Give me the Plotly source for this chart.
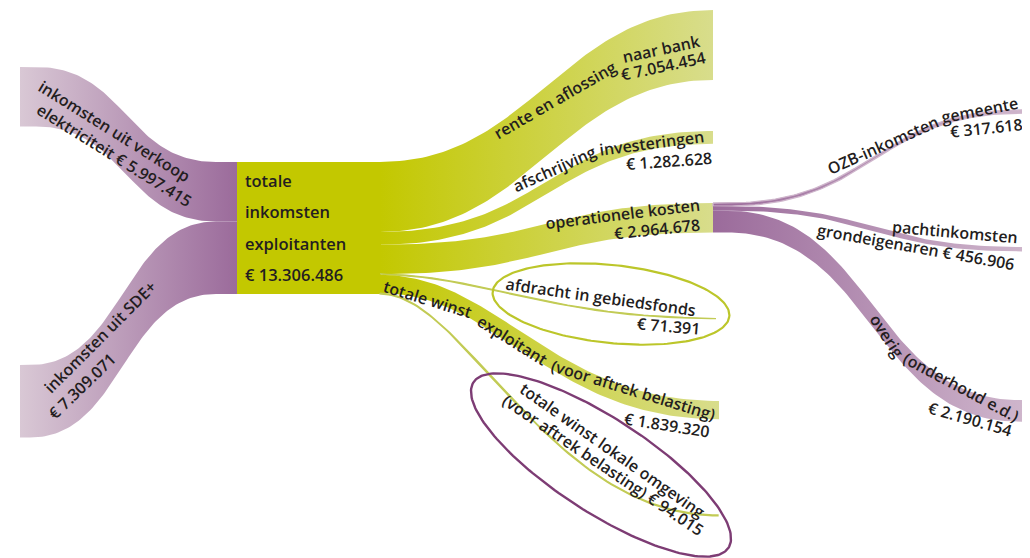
import numpy as np
import plotly.graph_objects as go

# ------------------------------------------------------------------ data
income_labels = ["inkomsten uit verkoop elektriciteit", "inkomsten uit SDE+"]
income_values = [5997415, 7309071]

total_label = ["totale", "inkomsten", "exploitanten"]
total_value = 13306486

spend_labels = [
    "rente en aflossing naar bank",
    "afschrijving investeringen",
    "operationele kosten",
    "afdracht in gebiedsfonds",
    "totale winst exploitant (voor aftrek belasting)",
    "totale winst lokale omgeving (voor aftrek belasting)",
]
spend_values = [7054454, 1282628, 2964678, 71391, 1839320, 94015]

opex_labels = ["OZB-inkomsten gemeente", "pachtinkomsten grondeigenaren", "overig (onderhoud e.d.)"]
opex_values = [317618, 456906, 2190154]


def euro(v):
    return "€ " + f"{v:,}".replace(",", ".")


# ------------------------------------------------------------------ layout / style
W, H = 1030, 558
PAGE_OFF = 8                        # default body margin of the html page
BLOCK_PX = 132                      # pixel height of the total block
K = BLOCK_PX / total_value          # px per euro
BLOCK_X0, BLOCK_X1, BLOCK_TOP = 237, 380, 162

income_pos = [dict(x0=20, top=67, f0=16, f1=22), dict(x0=20, top=365, f0=10, f1=22)]
spend_pos = [
    dict(x1=713, top=10, c0=0.45, c1=0.45),
    dict(x1=713, top=131, c0=0.5, c1=0.5),
    dict(x1=713, top=203, c0=0.5, c1=0.5),
    dict(x1=716, top=318, c0=0.3, c1=0.5),
    dict(x1=719, top=401, c0=0.35, c1=0.5),
    dict(x1=718, top=515, c0=0.25, c1=0.5),
]
OPEX_X0 = 713
opex_pos = [dict(x1=1027, top=110), dict(x1=1027, top=247), dict(x1=1025, top=400)]

C_BLOCK = "#c3c800"
C_GREEN_END = "#d8dd8c"
C_PURPLE_DARK = "#9b6b9b"
C_PURPLE_PALE = "#d9c8d5"
C_PURPLE_R_END = "#cfb6cc"
C_THIN = "#c2cb55"
C_TEXT = "#231d20"
FONT = "Open Sans"
FS = 16
FW = 600


def bez(p, t):
    return (1 - t) ** 3 * p[0] + 3 * (1 - t) ** 2 * t * p[1] + 3 * (1 - t) * t ** 2 * p[2] + t ** 3 * p[3]


def ribbon(x0, x1, ya, yb, w, f0=0, f1=0, c0=0.5, c1=0.5, n=90):
    xa, xb = x0 + f0, x1 - f1
    t = np.linspace(0, 1, n)
    dx = xb - xa
    bx = bez([xa, xa + c0 * dx, xb - c1 * dx, xb], t)
    by = bez([ya, ya, yb, yb], t)
    xs = np.concatenate([[x0], bx, [x1]])
    ys = np.concatenate([[ya], by, [yb]])
    X = np.concatenate([xs, xs[::-1], [xs[0]]])
    Y = np.concatenate([ys, (ys + w)[::-1], [ys[0]]])
    return X, Y


fig = go.Figure()


def add_ribbon(X, Y, x0, x1, cA, cB, name, thin=False):
    fig.add_trace(go.Scatter(
        x=X, y=Y, mode="lines", fill="toself", name=name,
        line=dict(width=1.3 if thin else 0, color=cB if thin else cA),
        fillcolor=cA,
        fillgradient=dict(type="horizontal", colorscale=[[0, cA], [1, cB]], start=x0, stop=x1),
        hoverinfo="skip", showlegend=False,
    ))


# left income flows
y_stack = BLOCK_TOP
for lab, v, p in zip(income_labels, income_values, income_pos):
    w = v * K
    X, Y = ribbon(p["x0"], BLOCK_X0 + 1, p["top"], y_stack, w, f0=p["f0"], f1=p["f1"])
    add_ribbon(X, Y, p["x0"], BLOCK_X0, C_PURPLE_PALE, C_PURPLE_DARK, lab)
    y_stack += w

# centre block
X, Y = ribbon(BLOCK_X0, BLOCK_X1 + 1, BLOCK_TOP, BLOCK_TOP, total_value * K)
add_ribbon(X, Y, BLOCK_X0, BLOCK_X1, C_BLOCK, C_BLOCK, "totaal")

# right green flows
y_stack = BLOCK_TOP
for lab, v, p in zip(spend_labels, spend_values, spend_pos):
    w = v * K
    thin = w < 1.5
    X, Y = ribbon(BLOCK_X1, p["x1"], y_stack, p["top"], w, c0=p["c0"], c1=p["c1"])
    if thin:
        add_ribbon(X, Y, BLOCK_X1, p["x1"], C_THIN, C_THIN, lab, thin=True)
    else:
        add_ribbon(X, Y, BLOCK_X1, p["x1"], C_BLOCK, C_GREEN_END, lab)
    if lab == "operationele kosten":
        opex_top = p["top"]
    y_stack += w

# purple flows from operationele kosten
y_stack = opex_top
for lab, v, p in zip(opex_labels, opex_values, opex_pos):
    w = v * K
    X, Y = ribbon(OPEX_X0, p["x1"], y_stack, p["top"], w, f0=14, f1=6)
    add_ribbon(X, Y, OPEX_X0, p["x1"], C_PURPLE_DARK, C_PURPLE_R_END, lab, thin=w < 4)
    y_stack += w


# decorative ovals
def oval(cx, cy, a, b, ang, color, width):
    t = np.linspace(0, 2 * np.pi, 200)
    r = np.deg2rad(ang)
    x = cx + a * np.cos(t) * np.cos(r) - b * np.sin(t) * np.sin(r)
    y = cy + a * np.cos(t) * np.sin(r) + b * np.sin(t) * np.cos(r)
    fig.add_trace(go.Scatter(x=x, y=y, mode="lines", line=dict(color=color, width=width),
                             hoverinfo="skip", showlegend=False))


oval(611, 304, 119, 39, 6, "#bcc62a", 2.2)
oval(601, 465, 152, 47, 33, "#7d3c74", 2.4)

# ------------------------------------------------------------------ texts
ann = []


def txt(s, x, y, ang=0, size=FS, xanchor="center"):
    ann.append(dict(text=s, x=x, y=y, xref="x", yref="y", showarrow=False, textangle=ang,
                    xanchor=xanchor, yanchor="middle",
                    font=dict(family=FONT, size=size, color=C_TEXT, weight=FW)))


# centre block
for i, s in enumerate(total_label + [euro(total_value)]):
    txt(s, 243, 180 + i * 31.5, 0, 16.5, "left")

# left labels
txt("inkomsten uit verkoop", 114, 131, 32)
txt("elektriciteit " + euro(income_values[0]), 114, 155, 32)
txt("inkomsten uit SDE+", 100, 337, -45)
txt(euro(income_values[1]), 82, 386, -44)

# green labels
txt("rente en aflossing", 555, 100, -30)
txt("naar bank", 661, 49, -12)
txt(euro(spend_values[0]), 663, 66, -12)
txt("afschrijving", 554, 169, -24)
txt("investeringen", 652, 143, -7.5)
txt(euro(spend_values[1]), 669, 161, -4)
txt("operationele kosten", 622, 214, -7)
txt(euro(spend_values[2]), 657, 229, -6)
txt("afdracht in gebiedsfonds", 601, 297, 8)
txt(euro(spend_values[3]), 668, 326, 5)
txt("totale winst", 427, 299, 17)
txt("exploitant", 512, 340, 32)
txt("(voor aftrek belasting)", 633, 390, 17)
txt(euro(spend_values[4]), 667, 425, 9)
txt("totale winst lokale omgeving", 612, 450, 35)
txt("(voor aftrek belasting) " + euro(spend_values[5]), 603, 465, 34)

# purple labels
txt("OZB-inkomsten", 883, 145, -24)
txt("gemeente", 980, 110, -11)
txt(euro(opex_values[0]), 986, 128, -6)
txt("pachtinkomsten", 955, 232, 5)
txt("grondeigenaren " + euro(opex_values[1]), 916, 247, 10)
txt("overig", 887, 336, 57)
txt("(onderhoud e.d.)", 961, 387, 28)
txt(euro(opex_values[2]), 970, 419, 16)

fig.update_layout(
    width=W - PAGE_OFF, height=H - PAGE_OFF, margin=dict(l=0, r=0, t=0, b=0),
    paper_bgcolor="white", plot_bgcolor="white",
    xaxis=dict(range=[PAGE_OFF, W], visible=False, fixedrange=True),
    yaxis=dict(range=[H, PAGE_OFF], visible=False, fixedrange=True),
    annotations=ann, showlegend=False,
)

fig.write_html("out.html")
